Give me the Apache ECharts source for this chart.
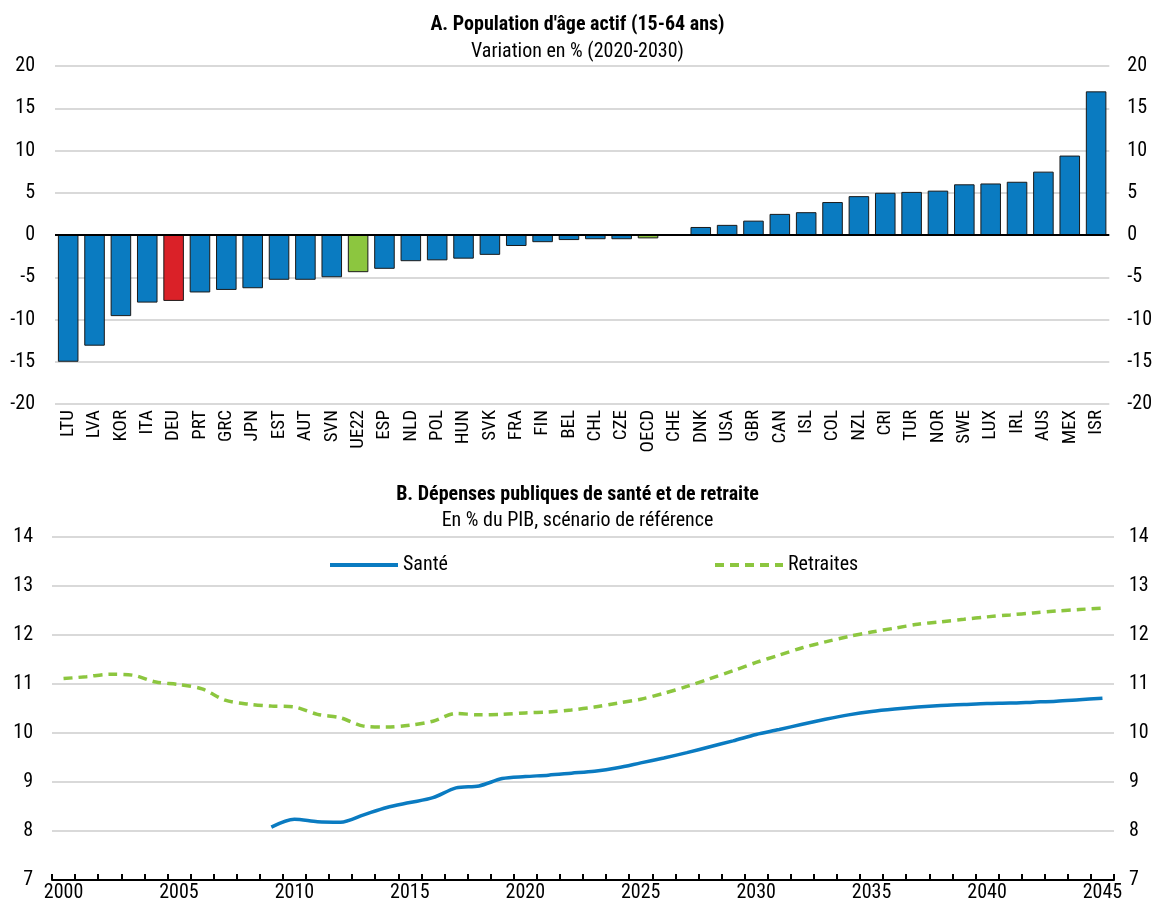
<!DOCTYPE html>
<html>
<head>
<meta charset="utf-8">
<script src="https://cdn.jsdelivr.net/npm/echarts@6/dist/echarts.min.js"></script>
<style>
html,body{margin:0;padding:0;background:#fff;}
#chart{width:1155px;height:905px;}
</style>
</head>
<body>
<div id="chart"></div>
<script>
// Panel A data
const countries = ['LTU','LVA','KOR','ITA','DEU','PRT','GRC','JPN','EST','AUT','SVN','UE22','ESP','NLD','POL','HUN','SVK','FRA','FIN','BEL','CHL','CZE','OECD','CHE','DNK','USA','GBR','CAN','ISL','COL','NZL','CRI','TUR','NOR','SWE','LUX','IRL','AUS','MEX','ISR'];
const popChange = [-15.0,-13.1,-9.6,-8.0,-7.8,-6.8,-6.5,-6.3,-5.3,-5.3,-5.0,-4.4,-4.0,-3.1,-3.0,-2.8,-2.35,-1.3,-0.85,-0.6,-0.5,-0.5,-0.4,0.08,0.95,1.2,1.7,2.5,2.7,3.9,4.6,5.0,5.1,5.25,6.0,6.1,6.3,7.5,9.4,17.0];
const highlightRed = ['DEU'];
const highlightGreen = ['UE22','OECD'];

// Panel B data
const years = [];
for (let y = 2000; y <= 2045; y++) years.push(String(y));
const sante = [null,null,null,null,null,null,null,null,null,8.08,8.24,8.19,8.18,8.33,8.48,8.58,8.68,8.88,8.92,9.07,9.11,9.14,9.18,9.22,9.29,9.39,9.49,9.6,9.72,9.84,9.97,10.07,10.18,10.28,10.37,10.44,10.49,10.53,10.56,10.58,10.6,10.61,10.63,10.65,10.68,10.71];
const retraites = [11.11,11.15,11.2,11.18,11.04,10.99,10.9,10.67,10.59,10.55,10.53,10.38,10.31,10.14,10.12,10.16,10.24,10.4,10.37,10.38,10.41,10.43,10.47,10.53,10.61,10.69,10.81,10.95,11.11,11.27,11.44,11.59,11.74,11.86,11.97,12.06,12.14,12.22,12.27,12.32,12.37,12.41,12.45,12.49,12.52,12.55];

const FONT = "'Liberation Sans Narrow','Arial Narrow','Roboto Condensed','Liberation Sans',sans-serif";
const BLUE = '#0a7bc1';
const RED = '#da2128';
const GREEN = '#8cc63f';
const GRID = '#d9d9d9';

const barData = countries.map((c, i) => {
  let col = BLUE;
  if (highlightRed.includes(c)) col = RED;
  if (highlightGreen.includes(c)) col = GREEN;
  return { value: popChange[i], itemStyle: { color: col } };
});

const labelStyle = { color: '#000', fontFamily: FONT, fontSize: 20 };

const chart = echarts.init(document.getElementById('chart'), null, { renderer: 'canvas' });
chart.setOption({
  animation: false,
  backgroundColor: '#fff',
  title: [
    { text: "A. Population d'âge actif (15-64 ans)", left: 'center', top: 10,
      textStyle: { fontFamily: FONT, fontSize: 20, fontWeight: 'bold', color: '#000' } },
    { text: 'Variation en % (2020-2030)', left: 'center', top: 37,
      textStyle: { fontFamily: FONT, fontSize: 20, fontWeight: 'normal', color: '#000' } },
    { text: 'B. Dépenses publiques de santé et de retraite', left: 'center', top: 480,
      textStyle: { fontFamily: FONT, fontSize: 20, fontWeight: 'bold', color: '#000' } },
    { text: 'En % du PIB, scénario de référence', left: 'center', top: 506,
      textStyle: { fontFamily: FONT, fontSize: 20, fontWeight: 'normal', color: '#000' } }
  ],
  legend: [
    { data: ['Santé'], left: 323, top: 550, itemWidth: 68, itemHeight: 16, itemGap: 0,
      itemStyle: { opacity: 0 }, lineStyle: { width: 4 },
      textStyle: { fontFamily: FONT, fontSize: 20, color: '#000' } },
    { data: ['Retraites'], left: 708, top: 550, itemWidth: 68, itemHeight: 16, itemGap: 0,
      itemStyle: { opacity: 0 }, lineStyle: { width: 4 },
      textStyle: { fontFamily: FONT, fontSize: 20, color: '#000' } }
  ],
  grid: [
    { left: 55, right: 45, top: 66, height: 338 },
    { left: 52, right: 41, top: 537, height: 343 }
  ],
  xAxis: [
    { type: 'category', gridIndex: 0, data: countries, boundaryGap: true,
      axisLine: { show: false, onZero: false }, axisTick: { show: false },
      axisLabel: Object.assign({ rotate: 90, interval: 0, margin: 6 }, labelStyle, { fontSize: 19 }) },
    { type: 'category', gridIndex: 1, data: years, boundaryGap: true,
      axisLine: { show: true, onZero: false, lineStyle: { color: '#000', width: 2 } },
      axisTick: { show: true, inside: true, length: 6, interval: 0, lineStyle: { color: '#000', width: 2 } },
      axisLabel: Object.assign({ interval: 4, margin: 3 }, labelStyle) }
  ],
  yAxis: [
    { type: 'value', gridIndex: 0, min: -20, max: 20, interval: 5, position: 'left',
      axisLine: { show: false }, axisTick: { show: false },
      splitLine: { lineStyle: { color: GRID, width: 2 } },
      axisLabel: Object.assign({ margin: 20 }, labelStyle) },
    { type: 'value', gridIndex: 0, min: -20, max: 20, interval: 5, position: 'right',
      axisLine: { show: false }, axisTick: { show: false }, splitLine: { show: false },
      axisLabel: Object.assign({ margin: 18 }, labelStyle) },
    { type: 'value', gridIndex: 1, min: 7, max: 14, interval: 1, position: 'left',
      axisLine: { show: false }, axisTick: { show: false },
      splitLine: { lineStyle: { color: GRID, width: 2 } },
      axisLabel: Object.assign({ margin: 19 }, labelStyle) },
    { type: 'value', gridIndex: 1, min: 7, max: 14, interval: 1, position: 'right',
      axisLine: { show: false }, axisTick: { show: false }, splitLine: { show: false },
      axisLabel: Object.assign({ margin: 15 }, labelStyle) }
  ],
  series: [
    { type: 'bar', xAxisIndex: 0, yAxisIndex: 0, data: barData, barCategoryGap: '22%',
      itemStyle: { borderColor: '#1a1a1a', borderWidth: 1 },
      markLine: { silent: true, symbol: 'none', label: { show: false },
        lineStyle: { color: '#000', width: 2, type: 'solid' }, data: [{ yAxis: 0 }] } },
    { name: 'Santé', type: 'line', xAxisIndex: 1, yAxisIndex: 2, data: sante,
      smooth: 0.3, showSymbol: false, symbol: 'none',
      lineStyle: { color: BLUE, width: 3.5 }, itemStyle: { color: BLUE } },
    { name: 'Retraites', type: 'line', xAxisIndex: 1, yAxisIndex: 2, data: retraites,
      smooth: 0.3, showSymbol: false, symbol: 'none',
      lineStyle: { color: GREEN, width: 3.5, type: [9, 6] }, itemStyle: { color: GREEN } }
  ]
});
</script>
</body>
</html>
